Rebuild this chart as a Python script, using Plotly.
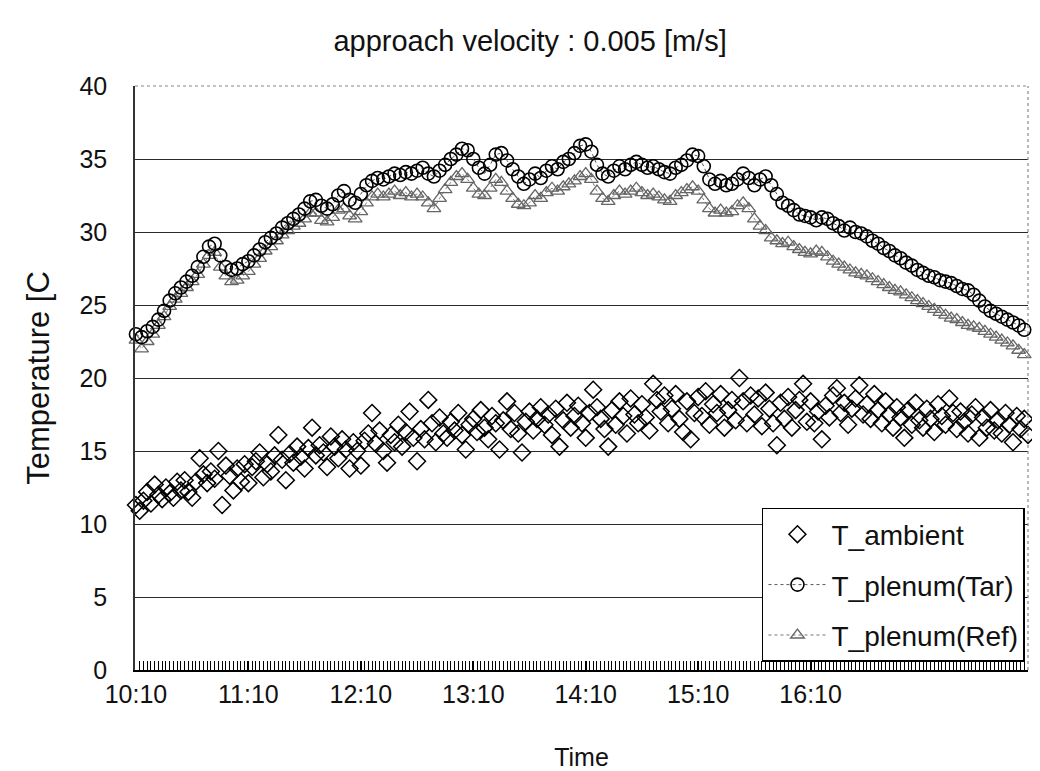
import pandas as pd
import plotly.graph_objects as go

# ---- data ----
start = "2000-01-01 10:10"
tick_labels = ["10:10", "11:10", "12:10", "13:10", "14:10", "15:10", "16:10"]

# ambient: one reading every 2 minutes
t_ambient = [
    11.3, 10.9, 11.6, 12.2, 11.4, 12.7, 12.0, 11.7, 12.5, 12.1, 11.8, 12.9, 12.3, 13.0, 12.2,
    11.8, 12.9, 14.5, 13.4, 12.8, 13.6, 13.1, 15.0, 11.3, 14.0, 13.3, 12.3, 13.8, 12.9, 14.1,
    12.8, 13.9, 14.3, 14.9, 13.2, 14.1, 13.6, 14.7, 16.1, 14.4, 13.0, 14.8, 14.2, 15.3, 14.6,
    13.8, 15.2, 16.6, 14.7, 15.4, 14.9, 13.9, 16.0, 15.3, 14.5, 15.8, 15.1, 13.8, 15.6, 15.0,
    14.0, 15.7, 16.2, 17.6, 15.5, 16.4, 15.0, 14.2, 16.1, 15.6, 16.8, 15.3, 16.3, 17.7, 15.9,
    14.3, 16.5, 15.8, 18.5, 16.9, 15.6, 17.3, 16.2, 15.9, 17.0, 16.4, 17.6, 16.1, 15.1, 16.8,
    17.2, 16.3, 17.8, 16.6, 15.8, 17.4, 16.9, 15.1, 17.1, 18.4, 16.5, 17.6, 16.2, 14.9, 17.0,
    17.7, 16.4, 17.2, 18.0, 16.8, 17.5, 16.1, 17.9, 15.3, 17.1, 18.3, 16.6, 17.4, 18.1, 16.9,
    15.9, 17.6, 19.2, 18.0, 17.2, 16.5, 15.3, 17.8, 16.8, 18.4, 17.4, 16.2, 18.6, 17.5, 16.9,
    18.2, 17.3, 16.4, 19.6, 18.5, 17.7, 18.8, 16.9, 17.9, 18.9, 17.2, 16.3, 18.4, 15.8, 17.6,
    18.7, 17.4, 19.1, 16.8, 18.2, 17.6, 18.9, 16.6, 17.8, 18.5, 17.1, 20.0, 18.4, 16.9, 18.8,
    17.5, 18.6, 16.7, 19.0, 17.9, 16.9, 15.4, 18.3, 17.2, 18.7, 16.6, 17.8, 18.5, 19.6, 17.0,
    18.4, 16.9, 17.7, 15.8, 18.1, 17.3, 18.8, 19.3, 17.6, 18.3, 16.8, 17.9, 18.6, 19.5, 17.5,
    18.2, 17.2, 18.9, 17.8, 16.9, 18.4, 17.5, 16.6, 18.0, 17.3, 15.9, 17.8, 16.8, 18.3, 17.1,
    16.6, 17.9, 17.2, 16.3, 18.2, 17.4, 16.8, 18.6, 17.6, 16.5, 17.7, 17.0, 16.2, 17.5, 18.0,
    15.9, 17.3, 16.6, 17.8, 16.4, 17.1, 16.2, 17.6, 16.8, 15.6, 17.4, 16.5, 17.2, 16.1, 16.6,
]

# plenum temperatures: one reading every 3 minutes
t_plenum_tar = [
    23.0, 22.8, 23.2, 23.5, 24.0, 24.6, 25.3, 25.8, 26.2, 26.6,
    27.0, 27.6, 28.3, 29.0, 29.2, 28.4, 27.6, 27.4, 27.5, 27.8,
    28.0, 28.4, 28.8, 29.3, 29.6, 29.9, 30.3, 30.6, 30.9, 31.2,
    31.6, 32.1, 32.2, 31.8, 31.6, 31.9, 32.5, 32.8, 32.2, 32.0,
    32.6, 33.2, 33.5, 33.7, 33.6, 33.8, 34.0, 33.9, 34.1, 34.0,
    34.2, 34.4, 34.0, 33.8, 34.2, 34.6, 35.0, 35.3, 35.7, 35.6,
    35.0, 34.4, 34.0, 34.6, 35.3, 35.4, 34.9, 34.3, 33.8, 33.3,
    33.6, 34.0, 33.7, 34.2, 34.5, 34.3, 34.8, 35.0, 35.4, 35.9,
    36.0, 35.5, 34.6, 34.0, 33.8, 34.2, 34.5, 34.3, 34.6, 34.8,
    34.6, 34.4, 34.5, 34.3, 34.1, 34.0, 34.4, 34.6, 34.9, 35.3,
    35.2, 34.5, 33.6, 33.3, 33.5, 33.2, 33.3, 33.6, 34.0, 33.7,
    33.2, 33.6, 33.8, 33.2, 32.6, 32.0, 31.8, 31.5, 31.2, 31.1,
    31.0, 30.8, 31.0, 30.9, 30.6, 30.4, 30.1, 30.3, 30.0, 29.9,
    29.7, 29.4, 29.2, 28.9, 28.7, 28.4, 28.2, 27.9, 27.7, 27.4,
    27.2, 27.0, 26.9, 26.7, 26.6, 26.5, 26.3, 26.1, 26.0, 25.7,
    25.3, 24.9, 24.6, 24.4, 24.2, 24.0, 23.8, 23.6, 23.3, 22.9,
]

t_plenum_ref = [
    22.6, 22.0, 22.5, 23.0, 23.6, 24.2, 24.9, 25.4, 25.8, 26.2,
    26.6, 27.1, 27.8, 28.4, 28.6, 27.6, 27.0, 26.6, 26.7, 27.0,
    27.3, 27.8, 28.2, 28.7, 29.0, 29.4, 29.8, 30.1, 30.4, 30.6,
    30.9, 31.3, 31.3, 30.8, 30.7, 31.0, 31.5, 31.6, 31.1, 30.9,
    31.4, 32.0, 32.4, 32.6, 32.4, 32.6, 32.8, 32.5, 32.7, 32.4,
    32.6, 32.4, 32.0, 31.6, 32.3, 32.9, 33.4, 33.8, 34.0, 33.6,
    33.0, 32.6, 32.5, 33.0, 33.6, 33.4, 32.8, 32.3, 31.9, 31.8,
    32.0, 32.5, 32.3, 32.7, 33.0, 32.8, 33.1, 33.3, 33.5, 33.8,
    34.0, 33.6, 32.8, 32.3, 32.1, 32.5, 32.8, 32.6, 32.8, 33.0,
    32.7, 32.5, 32.6, 32.4, 32.2, 32.1, 32.5, 32.7, 32.9, 33.1,
    32.8, 32.2, 31.6, 31.3, 31.5, 31.3, 31.4, 31.8, 32.0, 31.6,
    30.9, 30.4, 30.1, 29.6, 29.4, 29.2, 29.3, 29.0, 28.8, 28.6,
    28.5, 28.7, 28.6, 28.3, 28.0, 27.8, 27.6, 27.4, 27.2, 27.1,
    27.0, 26.8, 26.6, 26.4, 26.2, 26.0, 25.9, 25.7, 25.5, 25.3,
    25.1, 24.9, 24.7, 24.5, 24.3, 24.1, 24.0, 23.8, 23.6, 23.5,
    23.4, 23.2, 23.0, 22.8, 22.6, 22.4, 22.2, 21.9, 21.6, 21.3,
]

time_ambient = pd.date_range(start, periods=len(t_ambient), freq="2min")
time_plenum = pd.date_range(start, periods=len(t_plenum_tar), freq="3min")
tick_times = pd.date_range(start, periods=len(tick_labels), freq="60min")

FONT = "Liberation Sans, Arial, sans-serif"

fig = go.Figure()

fig.add_trace(go.Scatter(
    x=time_plenum, y=t_plenum_ref, name="T_plenum(Ref)",
    mode="lines+markers", legendrank=3, legendgroup="c",
    line=dict(color="#777777", width=1, dash="dot"),
    marker=dict(symbol="triangle-up-open", size=12, color="#666666",
                line=dict(width=1.3, color="#666666")),
    cliponaxis=False,
))
fig.add_trace(go.Scatter(
    x=time_plenum, y=t_plenum_tar, name="T_plenum(Tar)",
    mode="lines+markers", legendrank=2, legendgroup="b",
    line=dict(color="#555555", width=1, dash="dot"),
    marker=dict(symbol="circle-open", size=13, color="#000000",
                line=dict(width=1.6, color="#000000")),
    cliponaxis=False,
))
fig.add_trace(go.Scatter(
    x=time_ambient, y=t_ambient, name="T_ambient",
    mode="markers", legendrank=1, legendgroup="a",
    marker=dict(symbol="diamond-open", size=13, color="#000000",
                line=dict(width=1.5, color="#000000")),
    cliponaxis=False,
))

fig.update_layout(
    width=1040, height=771,
    margin=dict(l=127, r=20, t=78, b=109),
    paper_bgcolor="white", plot_bgcolor="white",
    font=dict(family=FONT, color="#111111", size=24),
    title=dict(text="approach velocity : 0.005 [m/s]", x=0.502, xanchor="center",
               y=0.957, yanchor="middle", font=dict(size=29, family=FONT)),
    legend=dict(x=0.9966, y=0.0137, xanchor="right", yanchor="bottom",
                bgcolor="white", bordercolor="#000000", borderwidth=1.5,
                font=dict(size=28, family=FONT), tracegroupgap=11,
                itemwidth=58),
    showlegend=True,
)

fig.update_xaxes(
    type="date",
    range=["2000-01-01 10:09:30", "2000-01-01 18:06:00"],
    tickvals=tick_times, ticktext=tick_labels,
    ticks="inside", ticklen=9, tickwidth=1.5, tickcolor="#000000",
    minor=dict(dtick=120000, tick0=start, ticks="inside", ticklen=9,
               tickwidth=1.3, tickcolor="#000000", showgrid=False),
    ticklabelstandoff=1,
    tickfont=dict(size=25, family=FONT),
    showgrid=False, zeroline=False,
    showline=True, linecolor="#000000", linewidth=1.5,
    title=dict(text="Time", font=dict(size=25, family=FONT), standoff=42),
)
fig.update_yaxes(
    range=[0, 40], dtick=5, tick0=0,
    ticks="", ticklabelstandoff=21,
    tickfont=dict(size=25, family=FONT),
    showgrid=True, gridcolor="#2a2a2a", gridwidth=1.4,
    zeroline=False,
    showline=True, linecolor="#333333", linewidth=1.5,
    title=dict(text="Temperature [C", font=dict(size=31, family=FONT), standoff=21),
)

# light dotted frame on top and right of the plot area
fig.add_shape(type="line", xref="paper", yref="paper", x0=0, x1=1, y0=1, y1=1,
              line=dict(color="#888888", width=1.2, dash="dot"))
fig.add_shape(type="line", xref="paper", yref="paper", x0=1, x1=1, y0=0, y1=1,
              line=dict(color="#888888", width=1.2, dash="dot"))

fig.write_html("out.html")
